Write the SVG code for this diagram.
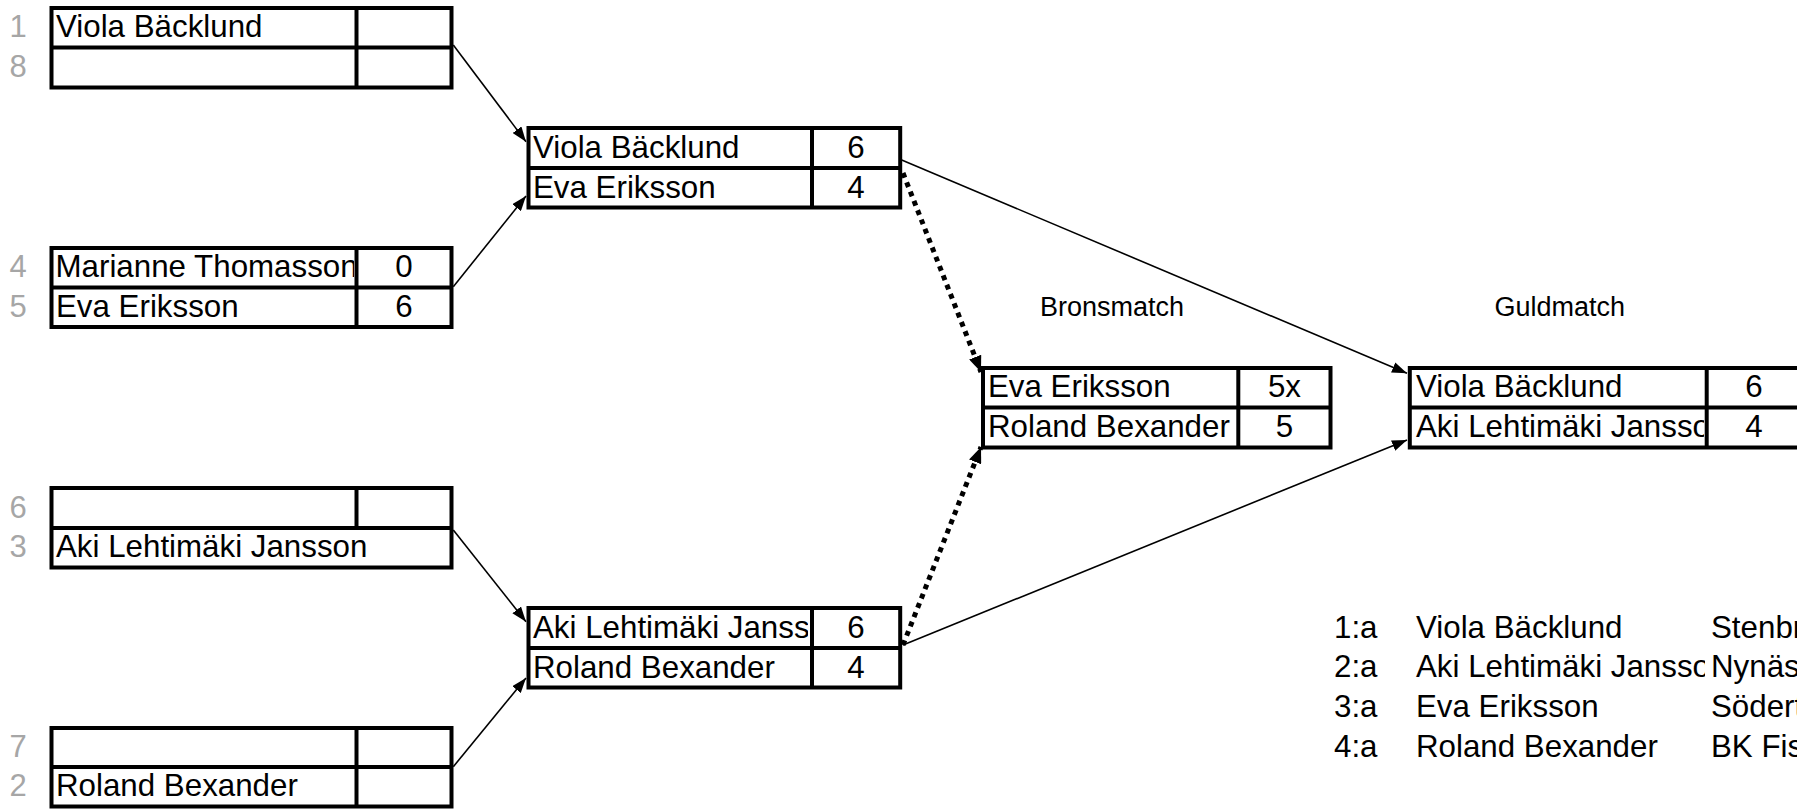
<svg xmlns="http://www.w3.org/2000/svg" width="1797" height="809" viewBox="0 0 1797 809">
<style>
.box{fill:#fff;stroke:#000;stroke-width:4}
.ln{stroke:#000;stroke-width:4;fill:none}
.t{font-family:"Liberation Sans",Arial,sans-serif;font-size:31.3px;fill:#000}
.s{font-family:"Liberation Sans",Arial,sans-serif;font-size:31.3px;fill:#000;text-anchor:middle}
.seed{font-family:"Liberation Sans",Arial,sans-serif;font-size:31px;fill:#a6a6a6;text-anchor:middle}
.lbl{font-family:"Liberation Sans",Arial,sans-serif;font-size:27px;fill:#000}
.c{stroke:#000;stroke-width:1.6;fill:none}
.d{stroke:#000;stroke-width:5;fill:none;stroke-dasharray:5 5}
</style>
<defs>
<marker id="ah" markerUnits="userSpaceOnUse" markerWidth="15" markerHeight="11" refX="15" refY="5.5" orient="auto"><path d="M0,0 L15,5.5 L0,11 z" fill="#000"/></marker>
<marker id="ahd" markerUnits="userSpaceOnUse" markerWidth="16" markerHeight="13" refX="16" refY="6.5" orient="auto"><path d="M0,0 L16,6.5 L0,13 z" fill="#000"/></marker>
<clipPath id="cn"><rect x="53" y="240" width="301" height="90"/></clipPath>
<clipPath id="cm"><rect x="530" y="100" width="278" height="600"/></clipPath>
<clipPath id="cg"><rect x="1411" y="360" width="293" height="95"/></clipPath>
<clipPath id="cs"><rect x="1300" y="600" width="405" height="200"/></clipPath>
</defs>

<g id="connectors">
<line class="c" x1="453.3" y1="45" x2="526" y2="141.7" marker-end="url(#ah)"/>
<line class="c" x1="453.3" y1="286.7" x2="526" y2="196" marker-end="url(#ah)"/>
<line class="c" x1="453.3" y1="530" x2="526" y2="621.7" marker-end="url(#ah)"/>
<line class="c" x1="453.3" y1="766.7" x2="526" y2="678" marker-end="url(#ah)"/>
<line class="c" x1="901.7" y1="160" x2="1407" y2="373.3" marker-end="url(#ah)"/>
<line class="c" x1="903" y1="645" x2="1407" y2="440" marker-end="url(#ah)"/>
<line class="d" x1="903" y1="173" x2="981" y2="372" marker-end="url(#ahd)"/>
<line class="d" x1="903" y1="645" x2="981" y2="447" marker-end="url(#ahd)"/>
</g>

<g id="r1-m1">
<rect class="box" x="51.5" y="8" width="400" height="79.5"/>
<line class="ln" x1="51.5" y1="47.5" x2="451.5" y2="47.5"/>
<line class="ln" x1="356.5" y1="8" x2="356.5" y2="87.5"/>
<text class="seed" x="18" y="37">1</text>
<text class="seed" x="18" y="77">8</text>
<text class="t" x="56" y="37">Viola Bäcklund</text>
</g>

<g id="r1-m2">
<rect class="box" x="51.5" y="248" width="400" height="79"/>
<line class="ln" x1="51.5" y1="287.5" x2="451.5" y2="287.5"/>
<text class="seed" x="18" y="277">4</text>
<text class="seed" x="18" y="317">5</text>
<g clip-path="url(#cn)"><text class="t" x="55.5" y="277">Marianne Thomasson</text></g>
<text class="t" x="56" y="317">Eva Eriksson</text>
<line class="ln" x1="356.5" y1="248" x2="356.5" y2="327"/>
<text class="s" x="404" y="277">0</text>
<text class="s" x="404" y="317">6</text>
</g>

<g id="r1-m3">
<rect class="box" x="51.5" y="488" width="400" height="79.5"/>
<line class="ln" x1="51.5" y1="528" x2="451.5" y2="528"/>
<line class="ln" x1="356.5" y1="488" x2="356.5" y2="528"/>
<text class="seed" x="18" y="518">6</text>
<text class="seed" x="18" y="557">3</text>
<text class="t" x="56" y="557">Aki Lehtimäki Jansson</text>
</g>

<g id="r1-m4">
<rect class="box" x="51.5" y="728" width="400" height="78.5"/>
<line class="ln" x1="51.5" y1="767" x2="451.5" y2="767"/>
<line class="ln" x1="356.5" y1="728" x2="356.5" y2="806.5"/>
<text class="seed" x="18" y="757">7</text>
<text class="seed" x="18" y="796">2</text>
<text class="t" x="56" y="796">Roland Bexander</text>
</g>

<g id="semi-1">
<rect class="box" x="528.5" y="128" width="371.7" height="79.5"/>
<line class="ln" x1="528.5" y1="168" x2="900.2" y2="168"/>
<text class="t" x="533" y="157.5">Viola Bäcklund</text>
<text class="t" x="533" y="197.5">Eva Eriksson</text>
<line class="ln" x1="812" y1="128" x2="812" y2="207.5"/>
<text class="s" x="856" y="157.5">6</text>
<text class="s" x="856" y="197.5">4</text>
</g>

<g id="semi-2">
<rect class="box" x="528.5" y="608" width="371.7" height="79.5"/>
<line class="ln" x1="528.5" y1="648" x2="900.2" y2="648"/>
<g clip-path="url(#cm)"><text class="t" x="533" y="638">Aki Lehtimäki Jansson</text></g>
<text class="t" x="533" y="677.5">Roland Bexander</text>
<line class="ln" x1="812" y1="608" x2="812" y2="687.5"/>
<text class="s" x="856" y="638">6</text>
<text class="s" x="856" y="677.5">4</text>
</g>

<g id="bronze">
<text class="lbl" x="1040" y="316">Bronsmatch</text>
<rect class="box" x="983" y="368" width="347.5" height="79.5"/>
<line class="ln" x1="983" y1="407.5" x2="1330.5" y2="407.5"/>
<text class="t" x="988" y="397">Eva Eriksson</text>
<text class="t" x="988" y="437">Roland Bexander</text>
<line class="ln" x1="1238.3" y1="368" x2="1238.3" y2="447.5"/>
<text class="s" x="1284.5" y="397">5x</text>
<text class="s" x="1284.5" y="437">5</text>
</g>

<g id="gold">
<text class="lbl" x="1494.5" y="316">Guldmatch</text>
<rect class="box" x="1409.8" y="368" width="391" height="79.5"/>
<line class="ln" x1="1409.8" y1="407.5" x2="1800.8" y2="407.5"/>
<text class="t" x="1416" y="397">Viola Bäcklund</text>
<g clip-path="url(#cg)"><text class="t" x="1416" y="437">Aki Lehtimäki Jansson</text></g>
<line class="ln" x1="1706.7" y1="368" x2="1706.7" y2="447.5"/>
<text class="s" x="1754" y="397">6</text>
<text class="s" x="1754" y="437">4</text>
</g>

<g id="standings">
<text class="t" x="1334" y="637.5">1:a</text>
<text class="t" x="1334" y="677">2:a</text>
<text class="t" x="1334" y="717">3:a</text>
<text class="t" x="1334" y="756.5">4:a</text>
<g clip-path="url(#cs)">
<text class="t" x="1416" y="637.5">Viola Bäcklund</text>
<text class="t" x="1416" y="677">Aki Lehtimäki Jansson</text>
<text class="t" x="1416" y="717">Eva Eriksson</text>
<text class="t" x="1416" y="756.5">Roland Bexander</text>
</g>
<text class="t" x="1711" y="637.5">Stenbr</text>
<text class="t" x="1711" y="677">Nynäs</text>
<text class="t" x="1711" y="717">Södert</text>
<text class="t" x="1711" y="756.5">BK Fis</text>
</g>
</svg>
